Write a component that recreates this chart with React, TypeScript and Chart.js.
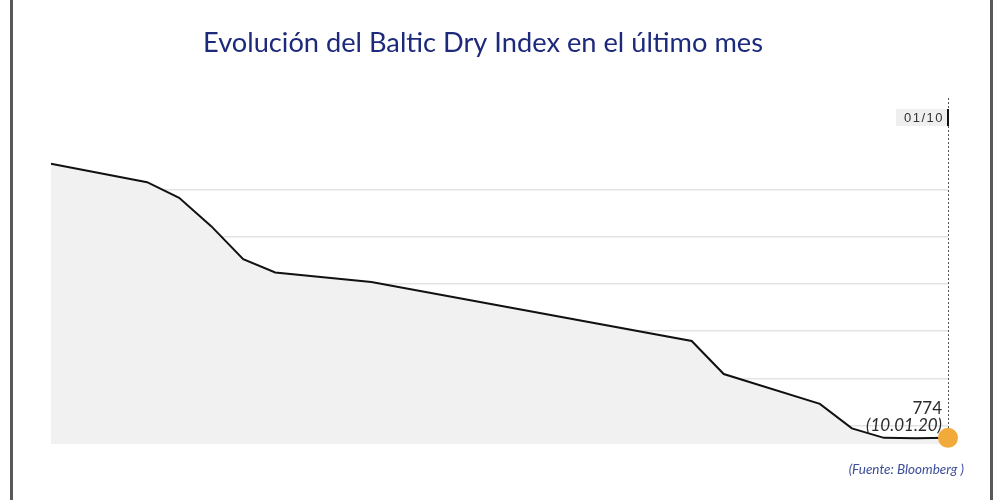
import React, { useEffect, useRef } from "react";
import { Chart, registerables } from "chart.js";

Chart.register(...registerables);

const TITLE = "Evolución del Baltic Dry Index en el último mes";
const SOURCE = "(Fuente: Bloomberg )";
const TOP_LABEL = "01/10";
const LAST_VALUE_LABEL = "774";
const LAST_DATE_LABEL = "(10.01.20)";

// calendar days (dd.mm.yy); non-trading days carry null
const dates = [
  "13.12.19", "14.12.19", "15.12.19", "16.12.19", "17.12.19", "18.12.19", "19.12.19",
  "20.12.19", "21.12.19", "22.12.19", "23.12.19", "24.12.19", "25.12.19", "26.12.19",
  "27.12.19", "28.12.19", "29.12.19", "30.12.19", "31.12.19", "01.01.20", "02.01.20",
  "03.01.20", "04.01.20", "05.01.20", "06.01.20", "07.01.20", "08.01.20", "09.01.20",
  "10.01.20",
];
const bdiValues: (number | null)[] = [
  1354, null, null, 1315, 1282, 1222, 1152,
  1124, null, null, 1104, null, null, null,
  null, null, null, null, null, null, 979,
  909, null, null, 846, 794, 774, 773,
  774,
];
const gridValues = [800, 900, 1000, 1100, 1200, 1300];
const yMin = 761;
const yMax = 1489;

const decorPlugin = {
  id: "decor",
  beforeDatasetsDraw(chart: any) {
    const { ctx } = chart;
    const meta = chart.getDatasetMeta(0);
    const last = meta.data[meta.data.length - 1];
    ctx.save();
    ctx.strokeStyle = "#555";
    ctx.lineWidth = 1;
    ctx.setLineDash([2, 2]);
    ctx.beginPath();
    ctx.moveTo(Math.round(last.x) + 0.5, 98);
    ctx.lineTo(Math.round(last.x) + 0.5, last.y);
    ctx.stroke();
    ctx.restore();
  },
  afterDraw(chart: any) {
    const { ctx, height } = chart;
    const meta = chart.getDatasetMeta(0);
    const last = meta.data[meta.data.length - 1];
    const lx = Math.round(last.x);
    ctx.save();
    // side borders
    ctx.fillStyle = "#595959";
    ctx.fillRect(10, 0, 3, height);
    ctx.fillRect(990, 0, 3, height);

    // title
    ctx.fillStyle = "#1d2a7c";
    ctx.textAlign = "center";
    ctx.textBaseline = "alphabetic";
    let size = 26;
    ctx.font = `${size}px Lato`;
    const w = ctx.measureText(TITLE).width;
    size = size * (560 / w);
    ctx.font = `${size}px Lato`;
    ctx.fillText(TITLE, 483, 52);

    // top date tag
    ctx.fillStyle = "#efefef";
    ctx.fillRect(lx - 52, 109, 52, 17);
    ctx.fillStyle = "#111";
    ctx.fillRect(lx - 1, 109, 2, 17);
    ctx.fillStyle = "#333";
    ctx.textAlign = "right";
    ctx.font = "13px 'Liberation Sans'";
    (ctx as any).letterSpacing = "1.5px";
    ctx.fillText(TOP_LABEL, lx - 4, 122);
    (ctx as any).letterSpacing = "0px";

    // last value annotation
    ctx.fillStyle = "#2a2a2a";
    ctx.font = "17px Lato";
    ctx.fillText(LAST_VALUE_LABEL, lx - 6, 414);
    ctx.font = "italic 17px Lato";
    ctx.fillText(LAST_DATE_LABEL, lx - 6, 431);

    // source
    ctx.fillStyle = "#3d4e9a";
    ctx.font = "italic 13.5px Lato";
    ctx.fillText(SOURCE, 964, 474);
    ctx.restore();
  },
};

export default function App() {
  const ref = useRef<HTMLCanvasElement>(null);
  useEffect(() => {
    if (!ref.current) return;
    const n = bdiValues.length;
    const chart = new Chart(ref.current, {
      type: "line",
      data: {
        labels: dates,
        datasets: [
          {
            data: bdiValues,
            borderColor: "#111",
            borderWidth: 2,
            backgroundColor: "#f1f1f1",
            fill: "start",
            tension: 0,
            spanGaps: true,
            clip: false,
            pointRadius: (c: any) => (c.dataIndex === n - 1 ? 10 : 0),
            pointBackgroundColor: "#f2aa3a",
            pointBorderWidth: 0,
            pointHoverRadius: 0,
          },
        ],
      },
      options: {
        responsive: false,
        animation: false,
        events: [],
        layout: { padding: { left: 51, right: 52, top: 100, bottom: 56 } },
        plugins: {
          legend: { display: false },
          tooltip: { enabled: false },
          title: { display: false },
        },
        scales: {
          x: { display: false, offset: false },
          y: {
            display: true,
            min: yMin,
            max: yMax,
            afterBuildTicks: (axis: any) => {
              axis.ticks = gridValues.map((v) => ({ value: v }));
            },
            ticks: { display: false },
            border: { display: false },
            grid: { color: "#e3e3e3", lineWidth: 1.5, drawTicks: false },
          },
        },
      },
      plugins: [decorPlugin],
    });
    return () => chart.destroy();
  }, []);
  return (
    <div style={{ position: "absolute", left: 0, top: 0, width: 1000, height: 500, background: "#fff" }}>
      <canvas ref={ref} width={1000} height={500} style={{ display: "block" }} />
    </div>
  );
}
